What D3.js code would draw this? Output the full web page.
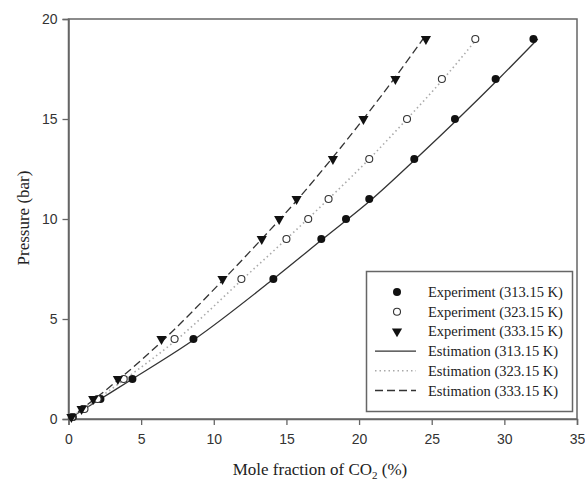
<!DOCTYPE html>
<html lang="en">
<head>
    <meta charset="UTF-8">
    <title>CO2 solubility</title>
    <script src="https://d3js.org/d3.v7.min.js"></script>
    <style>
        body { margin: 0; background: #fff; }
        .tick text { font-family: "Liberation Sans", Arial, sans-serif; font-size: 14px; fill: #333; }
        .axis-title { font-family: "Liberation Serif", "Times New Roman", serif; font-size: 17px; fill: #222; }
        .legend text { font-family: "Liberation Serif", "Times New Roman", serif; font-size: 14.5px; fill: #222; }
    </style>
</head>
<body>
<div id="chart"></div>
<script>
    // experimental pressures (bar) and mole fractions (%)
    const pressures = [0.1, 0.5, 1, 2, 4, 7, 9, 10, 11, 13, 15, 17, 19];
    const exp313 = [0.3, 1.0, 2.2, 4.4, 8.6, 14.1, 17.4, 19.1, 20.7, 23.8, 26.6, 29.4, 32.0];
    const exp323 = [0.25, 1.1, 2.0, 3.8, 7.3, 11.9, 15.0, 16.5, 17.9, 20.7, 23.3, 25.7, 28.0];
    const exp333 = [0.2, 0.9, 1.7, 3.4, 6.4, 10.6, 13.3, 14.5, 15.7, 18.2, 20.3, 22.5, 24.6];

    // estimation curves
    const estPressures = [0, 1, 2, 4, 7, 9, 11, 13, 15, 17, 19];
    const est313 = [0, 2.2, 4.4, 8.7, 14.1, 17.5, 20.9, 23.9, 26.8, 29.6, 32.3];
    const est323 = [0, 2.0, 3.9, 7.5, 12.0, 15.0, 17.9, 20.7, 23.3, 25.8, 28.1];
    const est333 = [0, 1.8, 3.5, 6.6, 10.7, 13.3, 15.8, 18.1, 20.3, 22.4, 24.4];

    const xTicks = [0, 5, 10, 15, 20, 25, 30, 35];
    const yTicks = [0, 5, 10, 15, 20];

    const svg = d3.select("#chart").append("svg").attr("width", 585).attr("height", 485);

    const x = d3.scaleLinear().domain([0, 35]).range([68.5, 577]);
    const y = d3.scaleLinear().domain([0, 20]).range([419, 19]);

    // frame
    svg.append("rect").attr("x", 68.5).attr("y", 19).attr("width", 577 - 68.5).attr("height", 400)
        .attr("fill", "none").attr("stroke", "#666").attr("stroke-width", 1.5);

    const xAxis = svg.append("g").attr("transform", "translate(0,419)")
        .call(d3.axisBottom(x).tickValues(xTicks).tickSize(6).tickPadding(9));
    const yAxis = svg.append("g").attr("transform", "translate(68.5,0)")
        .call(d3.axisLeft(y).tickValues(yTicks).tickSize(6).tickPadding(5));
    [xAxis, yAxis].forEach(a => {
        a.select(".domain").attr("stroke", "#666").attr("stroke-width", 1.5);
        a.selectAll(".tick line").attr("stroke", "#666").attr("stroke-width", 1.3);
    });

    // axis titles
    svg.append("text").attr("class", "axis-title")
        .attr("transform", "translate(29,218) rotate(-90)")
        .attr("text-anchor", "middle").text("Pressure (bar)");
    const xt = svg.append("text").attr("class", "axis-title")
        .attr("x", 320).attr("y", 475).attr("text-anchor", "middle");
    xt.append("tspan").text("Mole fraction of CO");
    xt.append("tspan").attr("dy", 4).style("font-size", "11px").text("2");
    xt.append("tspan").attr("dy", -4).text(" (%)");

    // estimation curves
    const line = d3.line().x(d => x(d[0])).y(d => y(d[1])).curve(d3.curveMonotoneX);
    const curves = [
        { xs: est313, stroke: "#333", dash: null, width: 1.3 },
        { xs: est323, stroke: "#aaa", dash: "1.5,3", width: 1.6 },
        { xs: est333, stroke: "#333", dash: "8,4", width: 1.3 }
    ];
    curves.forEach(c => {
        svg.append("path")
            .attr("d", line(c.xs.map((v, i) => [v, estPressures[i]])))
            .attr("fill", "none").attr("stroke", c.stroke)
            .attr("stroke-width", c.width).attr("stroke-dasharray", c.dash);
    });

    // markers
    const tri = d3.symbol().type(d3.symbolTriangle).size(45);
    svg.selectAll(".p313").data(exp313).enter().append("circle")
        .attr("cx", d => x(d)).attr("cy", (d, i) => y(pressures[i]))
        .attr("r", 4).attr("fill", "#111");
    svg.selectAll(".p323").data(exp323).enter().append("circle")
        .attr("cx", d => x(d)).attr("cy", (d, i) => y(pressures[i]))
        .attr("r", 3.5).attr("fill", "#fff").attr("stroke", "#333").attr("stroke-width", 1.1);
    svg.selectAll(".p333").data(exp333).enter().append("path")
        .attr("d", tri)
        .attr("transform", (d, i) => `translate(${x(d)},${y(pressures[i])}) rotate(180)`)
        .attr("fill", "#111");

    // legend
    const legend = svg.append("g").attr("class", "legend");
    legend.append("rect").attr("x", 366.5).attr("y", 271.5).attr("width", 206).attr("height", 140)
        .attr("fill", "#fff").attr("stroke", "#666").attr("stroke-width", 1.5);
    const items = [
        { label: "Experiment (313.15 K)", kind: "dot" },
        { label: "Experiment (323.15 K)", kind: "open" },
        { label: "Experiment (333.15 K)", kind: "tri" },
        { label: "Estimation (313.15 K)", kind: "line", c: curves[0] },
        { label: "Estimation (323.15 K)", kind: "line", c: curves[1] },
        { label: "Estimation (333.15 K)", kind: "line", c: curves[2] }
    ];
    items.forEach((it, i) => {
        const ly = 292 + i * 19.7;
        if (it.kind === "dot") {
            legend.append("circle").attr("cx", 397).attr("cy", ly).attr("r", 4).attr("fill", "#111");
        } else if (it.kind === "open") {
            legend.append("circle").attr("cx", 397).attr("cy", ly).attr("r", 3.5)
                .attr("fill", "#fff").attr("stroke", "#333").attr("stroke-width", 1.1);
        } else if (it.kind === "tri") {
            legend.append("path").attr("d", tri).attr("transform", `translate(397,${ly}) rotate(180)`).attr("fill", "#111");
        } else {
            legend.append("line").attr("x1", 375).attr("x2", 416).attr("y1", ly).attr("y2", ly)
                .attr("stroke", it.c.stroke).attr("stroke-width", it.c.width).attr("stroke-dasharray", it.c.dash);
        }
        legend.append("text").attr("x", 428).attr("y", ly + 5).text(it.label);
    });
</script>
</body>
</html>
